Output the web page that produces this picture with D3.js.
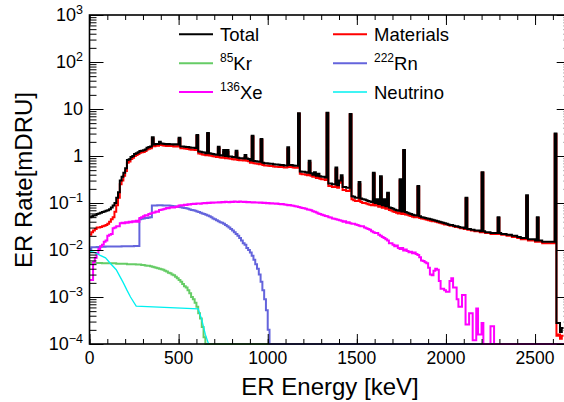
<!DOCTYPE html>
<html>
<head>
<meta charset="utf-8">
<script src="https://cdn.jsdelivr.net/npm/d3@7"></script>
<style>
body { margin: 0; background: #fff; }
svg { display: block; font-family: "Liberation Sans", Arial, Helvetica, sans-serif; }
</style>
</head>
<body>
<svg id="chart" width="564" height="402"></svg>
<script>
const BIN_KEV = 10;

// rates per 10 keV bin, starting at 0 keV (mDRU)
const totalRate = [
  0.05, 0.052, 0.054, 0.055, 0.058, 0.06, 0.062, 0.064, 0.066, 0.068,
  0.07, 0.074, 0.08, 0.088, 0.1, 0.13, 0.17, 0.3, 0.36, 0.44,
  0.55, 0.82, 0.85, 0.95, 1.0, 1.1, 1.15, 1.2, 1.28, 1.3,
  1.32, 1.38, 1.5, 1.55, 1.6, 2.5, 1.75, 1.8, 1.8, 2.0,
  1.85, 1.82, 1.8, 1.78, 1.8, 1.78, 1.78, 1.75, 1.77, 1.75,
  2.45, 1.6, 1.6, 1.58, 1.56, 1.55, 1.52, 1.5, 1.5, 1.48,
  2.8, 1.25, 1.23, 1.2, 1.18, 1.15, 3.1, 1.14, 1.12, 1.1,
  1.08, 1.06, 1.58, 1.04, 1.02, 1.34, 1.0, 1.34, 0.98, 0.97,
  0.95, 0.94, 1.3, 0.92, 0.9, 0.9, 0.89, 1.05, 0.88, 0.86,
  0.8, 2.7, 0.78, 0.77, 0.76, 0.75, 2.3, 0.72, 0.7, 0.7,
  0.69, 0.68, 0.68, 0.67, 0.66, 0.66, 0.65, 0.64, 0.64, 0.63,
  0.63, 1.53, 0.64, 0.64, 0.63, 0.62, 0.62, 8.1, 0.47, 0.46,
  0.46, 0.45, 0.44, 0.79, 0.43, 0.4, 0.45, 0.38, 0.42, 0.37,
  0.36, 0.36, 0.35, 8.3, 0.26, 0.26, 0.25, 0.25, 0.57, 0.24,
  0.3, 0.39, 0.22, 0.22, 0.21, 0.21, 7.8, 0.14, 0.135, 0.13,
  0.13, 0.28, 0.125, 0.12, 0.118, 0.115, 0.11, 0.108, 0.105, 0.44,
  0.1, 0.12, 0.095, 0.37, 0.09, 0.12, 0.085, 0.166, 0.08, 0.078,
  0.075, 0.072, 0.07, 0.068, 0.32, 0.066, 1.34, 0.064, 0.062, 0.06,
  0.058, 0.056, 0.055, 0.054, 0.23, 0.052, 0.05, 0.049, 0.048, 0.047,
  0.046, 0.045, 0.044, 0.043, 0.042, 0.041, 0.04, 0.039, 0.038, 0.037,
  0.036, 0.035, 0.034, 0.034, 0.033, 0.032, 0.032, 0.031, 0.03, 0.03,
  0.029, 0.13, 0.028, 0.028, 0.027, 0.027, 0.026, 0.026, 0.026, 0.025,
  0.45, 0.025, 0.024, 0.024, 0.024, 0.023, 0.023, 0.023, 0.023, 0.05,
  0.023, 0.022, 0.022, 0.022, 0.021, 0.021, 0.021, 0.02, 0.02, 0.02,
  0.019, 0.019, 0.018, 0.018, 0.018, 0.146, 0.017, 0.017, 0.017, 0.017,
  0.016, 0.05, 0.016, 0.016, 0.015, 0.015, 0.015, 0.015, 0.015, 0.015,
  0.015, 3.0, 0.00028, 0.00028, 0.00018, 0.00022
];

const materialsRate = [
  0.021, 0.024, 0.026, 0.028, 0.03, 0.03, 0.031, 0.032, 0.033, 0.034,
  0.036, 0.04, 0.045, 0.05, 0.065, 0.09, 0.13, 0.25, 0.3, 0.38,
  0.48, 0.72, 0.76, 0.86, 0.92, 1.0, 1.05, 1.1, 1.17, 1.2,
  1.22, 1.28, 1.38, 1.42, 1.47, 2.35, 1.62, 1.66, 1.66, 1.85,
  1.72, 1.68, 1.66, 1.64, 1.66, 1.64, 1.64, 1.6, 1.62, 1.6,
  2.3, 1.47, 1.46, 1.44, 1.42, 1.41, 1.38, 1.36, 1.36, 1.34,
  2.65, 1.13, 1.11, 1.08, 1.06, 1.04, 2.95, 1.03, 1.01, 0.99,
  0.97, 0.95, 1.46, 0.93, 0.92, 1.22, 0.9, 1.22, 0.88, 0.87,
  0.85, 0.84, 1.19, 0.82, 0.81, 0.81, 0.8, 0.95, 0.79, 0.77,
  0.72, 2.58, 0.7, 0.69, 0.68, 0.67, 2.2, 0.64, 0.63, 0.63,
  0.62, 0.61, 0.61, 0.6, 0.59, 0.59, 0.58, 0.58, 0.58, 0.57,
  0.57, 1.42, 0.58, 0.58, 0.57, 0.56, 0.56, 7.9, 0.42, 0.41,
  0.41, 0.4, 0.39, 0.72, 0.38, 0.36, 0.4, 0.34, 0.38, 0.33,
  0.32, 0.32, 0.31, 8.1, 0.23, 0.23, 0.22, 0.22, 0.52, 0.21,
  0.27, 0.35, 0.19, 0.19, 0.18, 0.18, 7.6, 0.12, 0.115, 0.11,
  0.11, 0.25, 0.105, 0.1, 0.1, 0.097, 0.094, 0.092, 0.09, 0.42,
  0.088, 0.105, 0.083, 0.35, 0.079, 0.105, 0.075, 0.155, 0.071, 0.069,
  0.066, 0.064, 0.062, 0.06, 0.3, 0.058, 1.3, 0.057, 0.056, 0.054,
  0.053, 0.051, 0.05, 0.05, 0.22, 0.048, 0.047, 0.046, 0.045, 0.044,
  0.043, 0.042, 0.041, 0.041, 0.04, 0.039, 0.038, 0.037, 0.036, 0.035,
  0.035, 0.034, 0.033, 0.033, 0.032, 0.031, 0.031, 0.03, 0.029, 0.029,
  0.028, 0.125, 0.027, 0.027, 0.026, 0.026, 0.025, 0.025, 0.025, 0.024,
  0.44, 0.024, 0.023, 0.023, 0.023, 0.022, 0.022, 0.022, 0.022, 0.048,
  0.022, 0.021, 0.021, 0.021, 0.02, 0.02, 0.02, 0.019, 0.019, 0.019,
  0.018, 0.018, 0.017, 0.017, 0.017, 0.14, 0.016, 0.016, 0.016, 0.016,
  0.015, 0.048, 0.015, 0.015, 0.014, 0.014, 0.014, 0.014, 0.014, 0.014,
  0.014, 2.9, 0.00015, 0.00016, 0.00013, 0.00015
];

// bins after the last listed one are empty
const kr85Rate = [
  0.0053, 0.0053, 0.0053, 0.0053, 0.0053, 0.0053, 0.0053, 0.0052, 0.0052, 0.0052,
  0.0052, 0.0052, 0.0052, 0.0052, 0.0052, 0.0051, 0.0051, 0.0051, 0.0051, 0.0051,
  0.0051, 0.005, 0.005, 0.005, 0.005, 0.005, 0.0049, 0.0049, 0.0049, 0.0048,
  0.0048, 0.0047, 0.0046, 0.0046, 0.0045, 0.0044, 0.0043, 0.0042, 0.0041, 0.004,
  0.0039, 0.0038, 0.0036, 0.0035, 0.0033, 0.0032, 0.003, 0.0029, 0.0027, 0.0025,
  0.0023, 0.0021, 0.0019, 0.0017, 0.0016, 0.0014, 0.0012, 0.001, 0.0009, 0.00075,
  0.00062, 0.00045, 0.00035, 0.00023, 0.00014, 0.0001
];

const rn222Rate = [
  0.0105, 0.0115, 0.0115, 0.0115, 0.0116, 0.0116, 0.0117, 0.0117, 0.0117, 0.0118,
  0.0118, 0.0118, 0.0118, 0.0118, 0.0119, 0.0119, 0.0119, 0.0119, 0.012, 0.012,
  0.012, 0.012, 0.012, 0.012, 0.012, 0.0121, 0.0121, 0.0122, 0.045, 0.046,
  0.047, 0.048, 0.048, 0.049, 0.05, 0.088, 0.089, 0.089, 0.09, 0.09,
  0.09, 0.089, 0.089, 0.088, 0.088, 0.087, 0.086, 0.085, 0.084, 0.083,
  0.082, 0.081, 0.079, 0.078, 0.077, 0.075, 0.073, 0.071, 0.07, 0.068,
  0.066, 0.064, 0.062, 0.06, 0.058, 0.056, 0.054, 0.052, 0.05, 0.047,
  0.045, 0.043, 0.041, 0.039, 0.038, 0.036, 0.034, 0.032, 0.03, 0.028,
  0.026, 0.024, 0.022, 0.02, 0.018, 0.016, 0.014, 0.013, 0.011, 0.01,
  0.0088, 0.0075, 0.0062, 0.005, 0.004, 0.003, 0.0021, 0.0014, 0.0009, 0.00052,
  0.0002
];

const xe136Rate = [
  0.0023, 0.0023, 0.0055, 0.0068, 0.0085, 0.0105, 0.012, 0.013, 0.015, 0.016,
  0.02, 0.021, 0.022, 0.029, 0.03, 0.032, 0.032, 0.037, 0.038, 0.037,
  0.039, 0.038, 0.04, 0.039, 0.041, 0.04, 0.042, 0.04, 0.048, 0.05,
  0.052, 0.055, 0.054, 0.058, 0.06, 0.062, 0.063, 0.066, 0.065, 0.071,
  0.072, 0.074, 0.075, 0.078, 0.077, 0.08, 0.081, 0.08, 0.082, 0.084,
  0.088, 0.09, 0.089, 0.092, 0.091, 0.094, 0.093, 0.095, 0.096, 0.095,
  0.097, 0.098, 0.096, 0.099, 0.1, 0.099, 0.101, 0.1, 0.102, 0.101,
  0.103, 0.102, 0.104, 0.103, 0.105, 0.104, 0.106, 0.105, 0.104, 0.106,
  0.105, 0.107, 0.106, 0.105, 0.107, 0.106, 0.105, 0.106, 0.104, 0.105,
  0.104, 0.103, 0.104, 0.102, 0.103, 0.101, 0.102, 0.1, 0.101, 0.099,
  0.1, 0.098, 0.099, 0.097, 0.096, 0.097, 0.095, 0.094, 0.095, 0.093,
  0.092, 0.09, 0.091, 0.088, 0.087, 0.085, 0.084, 0.082, 0.08, 0.078,
  0.077, 0.075, 0.073, 0.072, 0.07, 0.067, 0.065, 0.063, 0.06, 0.058,
  0.056, 0.055, 0.053, 0.052, 0.05, 0.049, 0.047, 0.046, 0.045, 0.044,
  0.043, 0.042, 0.04, 0.041, 0.038, 0.039, 0.037, 0.036, 0.036, 0.035,
  0.034, 0.033, 0.032, 0.032, 0.03, 0.029, 0.028, 0.027, 0.025, 0.024,
  0.023, 0.023, 0.021, 0.02, 0.019, 0.018, 0.017, 0.016, 0.014, 0.014,
  0.013, 0.012, 0.0125, 0.011, 0.0105, 0.011, 0.0098, 0.0102, 0.0095, 0.009,
  0.0092, 0.0085, 0.0088, 0.0082, 0.0078, 0.007, 0.006, 0.0058, 0.0055, 0.0052,
  0.0042, 0.003, 0.0029, 0.0036, 0.004, 0.0038, 0.0022, 0.0015, 0.0015, 0.0014,
  0.0013, 0.0013, 0.0022, 0.0025, 0.0016, 0.0016, 0.0009, 0.00062, 0.00062, 0.0011,
  0.0011, 0.00026, 0.00026, 0.00045, 0.00045, 0.00012, 0.00012, 0.00057, 0.00016, 0.00016,
  0.00028, 0, 0, 0, 0, 0.00024, 0.00024
];

// neutrino curve is a plain graph (keV, mDRU)
const neutrinoEnergy = [0, 30, 60, 90, 115, 150, 190, 210, 230, 262, 610, 630, 650, 668];
const neutrinoRate = [0.0095, 0.0088, 0.0077, 0.0068, 0.0053, 0.0038, 0.002, 0.0014, 0.001, 0.00064, 0.00056, 0.00033, 0.00016, 0.0001];

const xMajorTicks = [0, 500, 1000, 1500, 2000, 2500];
const yDecades = [-4, -3, -2, -1, 0, 1, 2, 3];

var svg = d3.select("#chart"),
    x = d3.scaleLinear().domain([0, 2700]).range([89.5, 570.7]),
    y = d3.scaleLog().domain([1e-4, 1e3]).range([344, 15]);

var nBins = totalRate.length;

function stepPath(values) {
    var pts = [];
    for (var i = 0; i < nBins; i++) {
        var v = i < values.length ? values[i] : 0;
        pts.push([i * BIN_KEV, v]);
    }
    pts.push([nBins * BIN_KEV, pts[pts.length - 1][1]]);
    return d3.line()
        .x(function (d) { return x(d[0]); })
        .y(function (d) { return y(Math.max(d[1], 1e-4)); })
        .curve(d3.curveStepAfter)(pts);
}

svg.append("clipPath").attr("id", "plotclip")
    .append("rect").attr("x", 88).attr("y", 14).attr("width", 490).attr("height", 332);

var plot = svg.append("g").attr("clip-path", "url(#plotclip)");

var hists = [
    {values: materialsRate, color: "#ff0000", width: 2},
    {values: totalRate, color: "#000000", width: 2},
    {values: kr85Rate, color: "#66cc66", width: 2},
    {values: rn222Rate, color: "#6464dc", width: 2},
    {values: xe136Rate, color: "#ff00ff", width: 2}
];

hists.forEach(function (h) {
    plot.append("path")
        .attr("d", stepPath(h.values))
        .attr("fill", "none")
        .attr("stroke", h.color)
        .attr("stroke-width", h.width)
        .attr("stroke-linejoin", "miter");
});

plot.append("path")
    .attr("d", d3.line()
        .x(function (d, i) { return x(neutrinoEnergy[i]); })
        .y(function (d) { return y(d); })(neutrinoRate))
    .attr("fill", "none")
    .attr("stroke", "#00f0f0")
    .attr("stroke-width", 1.3);

// axes, ROOT style: ticks inward on all four sides
var xMinor = d3.range(0, 2701, 100);
var yMajor = yDecades.map(function (k) { return Math.pow(10, k); });
var yMinor = [];
yDecades.slice(0, -1).forEach(function (k) {
    for (var m = 2; m <= 9; m++) yMinor.push(+(m * Math.pow(10, k)).toPrecision(3));
});

function addAxis(axis, transform) {
    var g = svg.append("g").attr("transform", transform).call(axis);
    g.select(".domain").remove();
    g.selectAll(".tick line").attr("stroke", "#000").attr("stroke-width", 1);
    return g;
}

addAxis(d3.axisBottom(x).tickValues(xMinor).tickSize(-5).tickSizeOuter(0).tickFormat(""), "translate(0,344)");
addAxis(d3.axisBottom(x).tickValues(xMajorTicks).tickSize(-10).tickSizeOuter(0).tickFormat(""), "translate(0,344)");
addAxis(d3.axisTop(x).tickValues(xMinor).tickSize(-5).tickSizeOuter(0).tickFormat(""), "translate(0,15)");
addAxis(d3.axisTop(x).tickValues(xMajorTicks).tickSize(-10).tickSizeOuter(0).tickFormat(""), "translate(0,15)");
addAxis(d3.axisLeft(y).tickValues(yMinor).tickSize(-7).tickSizeOuter(0).tickFormat(""), "translate(89.5,0)");
addAxis(d3.axisLeft(y).tickValues(yMajor).tickSize(-14).tickSizeOuter(0).tickFormat(""), "translate(89.5,0)");
addAxis(d3.axisRight(y).tickValues(yMinor).tickSize(-7).tickSizeOuter(0).tickFormat(""), "translate(570.7,0)");
addAxis(d3.axisRight(y).tickValues(yMajor).tickSize(-14).tickSizeOuter(0).tickFormat(""), "translate(570.7,0)");

svg.append("rect")
    .attr("x", 89.5).attr("y", 15)
    .attr("width", 570.7 - 89.5).attr("height", 344 - 15)
    .attr("fill", "none").attr("stroke", "#000").attr("stroke-width", 1.6);

// tick labels
svg.append("g").selectAll("text").data(xMajorTicks).enter().append("text")
    .attr("x", function (d) { return x(d); })
    .attr("y", 364)
    .attr("text-anchor", "middle")
    .attr("font-size", 17.5)
    .text(function (d) { return d; });

yDecades.forEach(function (k) {
    var t = svg.append("text")
        .attr("x", 83)
        .attr("y", y(Math.pow(10, k)) + 6.3)
        .attr("text-anchor", "end")
        .attr("font-size", 18);
    if (k === 0) t.text("1");
    else if (k === 1) t.text("10");
    else {
        t.append("tspan").text("10");
        t.append("tspan").attr("dy", -7.5).attr("font-size", 12.5)
            .text(k < 0 ? "\u2212" + (-k) : String(k));
    }
});

// axis titles
svg.append("text")
    .attr("x", 330).attr("y", 395)
    .attr("text-anchor", "middle")
    .attr("font-size", 24)
    .text("ER Energy [keV]");

svg.append("text")
    .attr("transform", "translate(32,180) rotate(-90)")
    .attr("text-anchor", "middle")
    .attr("font-size", 24)
    .text("ER Rate[mDRU]");

// legend
var legend = [
    {sup: "", label: "Total", color: "#000000", col: 0, row: 0, w: 2},
    {sup: "", label: "Materials", color: "#ff0000", col: 1, row: 0, w: 2},
    {sup: "85", label: "Kr", color: "#66cc66", col: 0, row: 1, w: 2},
    {sup: "222", label: "Rn", color: "#6464dc", col: 1, row: 1, w: 2},
    {sup: "136", label: "Xe", color: "#ff00ff", col: 0, row: 2, w: 2},
    {sup: "", label: "Neutrino", color: "#00f0f0", col: 1, row: 2, w: 1.3}
];
var legX = [179, 333], legY = [34.3, 63.3, 92];

legend.forEach(function (e) {
    var lx = legX[e.col], ly = legY[e.row];
    svg.append("line")
        .attr("x1", lx).attr("x2", lx + 34)
        .attr("y1", ly).attr("y2", ly)
        .attr("stroke", e.color).attr("stroke-width", e.w);
    var t = svg.append("text")
        .attr("x", lx + 41).attr("y", ly + 6.6)
        .attr("font-size", 18.5);
    if (e.sup) {
        t.append("tspan").attr("dy", -8).attr("font-size", 12).text(e.sup);
        t.append("tspan").attr("dy", 8).text(e.label);
    } else {
        t.text(e.label);
    }
});
</script>
</body>
</html>
